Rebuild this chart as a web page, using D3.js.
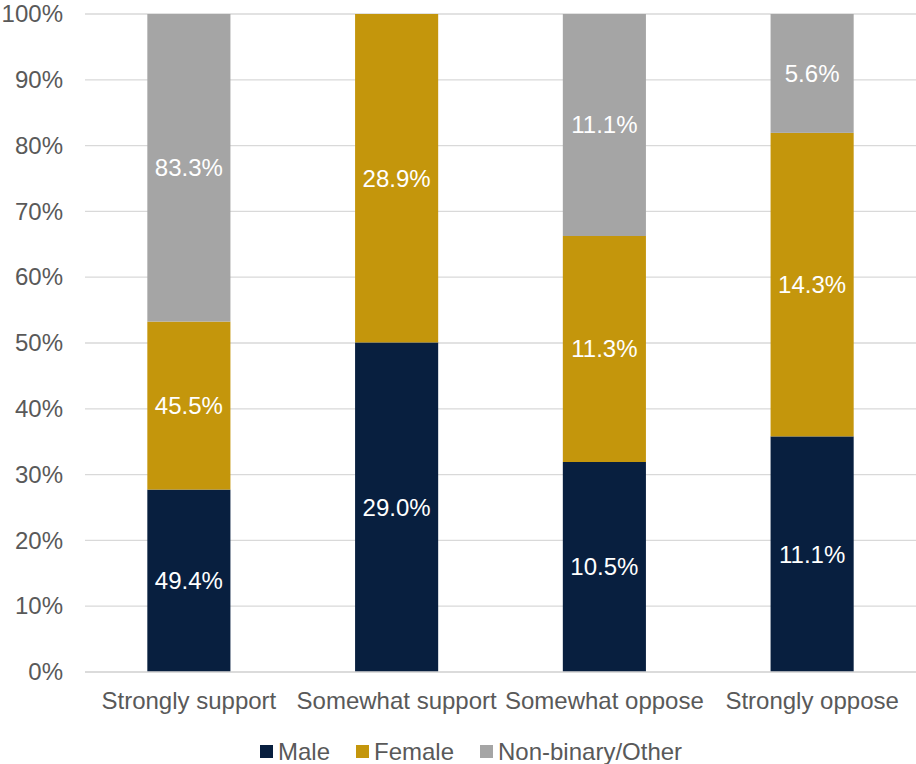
<!DOCTYPE html>
<html><head><meta charset="utf-8">
<script src="https://cdn.jsdelivr.net/npm/d3@7"></script>
<style>body{margin:0;background:#fff}svg{display:block;font-family:"Liberation Sans",Arial,sans-serif}</style>
</head><body><svg id="c" width="916" height="764"></svg>
<script>
const categories = ["Strongly support","Somewhat support","Somewhat oppose","Strongly oppose"];
const seriesNames = ["Male","Female","Non-binary/Other"];
const male = [49.4, 29.0, 10.5, 11.1];
const female = [45.5, 28.9, 11.3, 14.3];
const nonbinary = [83.3, 0, 11.1, 5.6];
const colors = ["#081f3f","#c4960c","#a5a5a5"];
const yTicks = [0,0.1,0.2,0.3,0.4,0.5,0.6,0.7,0.8,0.9,1];
const FS = 24;

const svg = d3.select("#c");
const m = {l:85, r:916, t:14, b:672};
const rows = categories.map((c,i)=>({cat:c, "Male":male[i], "Female":female[i], "Non-binary/Other":nonbinary[i]}));
const stack = d3.stack().keys(seriesNames).offset(d3.stackOffsetExpand);
const layers = stack(rows);
const x = d3.scaleBand().domain(categories).range([m.l, m.r]).paddingInner(0.6).paddingOuter(0.3);
const y = d3.scaleLinear().domain([0,1]).range([m.b, m.t]);

svg.append("g").selectAll("line").data(yTicks).join("line")
  .attr("x1", m.l).attr("x2", m.r)
  .attr("y1", d=>y(d)).attr("y2", d=>y(d))
  .attr("stroke", "#d9d9d9").attr("stroke-width", 1.3);

const yAxis = d3.axisLeft(y).tickValues(yTicks).tickFormat(d3.format(".0%")).tickSize(0).tickPadding(22);
svg.append("g").attr("transform", `translate(${m.l},0)`).call(yAxis)
  .attr("font-size", FS).attr("font-family","Liberation Sans, Arial, sans-serif")
  .call(g=>g.select(".domain").remove())
  .call(g=>g.selectAll("text").attr("fill","#595959"));

layers.forEach((layer, li)=>{
  const g = svg.append("g");
  g.selectAll("rect").data(layer).join("rect")
    .attr("x", d=>x(d.data.cat)).attr("width", x.bandwidth())
    .attr("y", d=>y(d[1])).attr("height", d=>y(d[0])-y(d[1]))
    .attr("fill", colors[li]);
  g.selectAll("text").data(layer.filter(d=>d.data[layer.key]>0)).join("text")
    .attr("x", d=>x(d.data.cat)+x.bandwidth()/2)
    .attr("y", d=>(y(d[0])+y(d[1]))/2)
    .attr("dy","0.35em").attr("text-anchor","middle")
    .attr("fill","#fff").attr("font-size",FS)
    .text(d=>d.data[layer.key].toFixed(1)+"%");
});

const xAxis = d3.axisBottom(x).tickSize(0).tickPadding(20);
svg.append("g").attr("transform", `translate(0,${m.b})`).call(xAxis)
  .attr("font-size", FS).attr("font-family","Liberation Sans, Arial, sans-serif")
  .call(g=>g.select(".domain").remove())
  .call(g=>g.selectAll("text").attr("fill","#595959"));
svg.append("line").attr("x1",m.l).attr("x2",m.r).attr("y1",m.b).attr("y2",m.b).attr("stroke","#d9d9d9").attr("stroke-width",1.3);

const legX = [260, 356, 480];
const leg = svg.append("g");
seriesNames.forEach((s,i)=>{
  leg.append("rect").attr("x",legX[i]).attr("y",745).attr("width",13).attr("height",13).attr("fill",colors[i]);
  leg.append("text").attr("x",legX[i]+18).attr("y",752).attr("dy","0.35em").attr("fill","#595959").attr("font-size",FS).text(s);
});
</script></body></html>
